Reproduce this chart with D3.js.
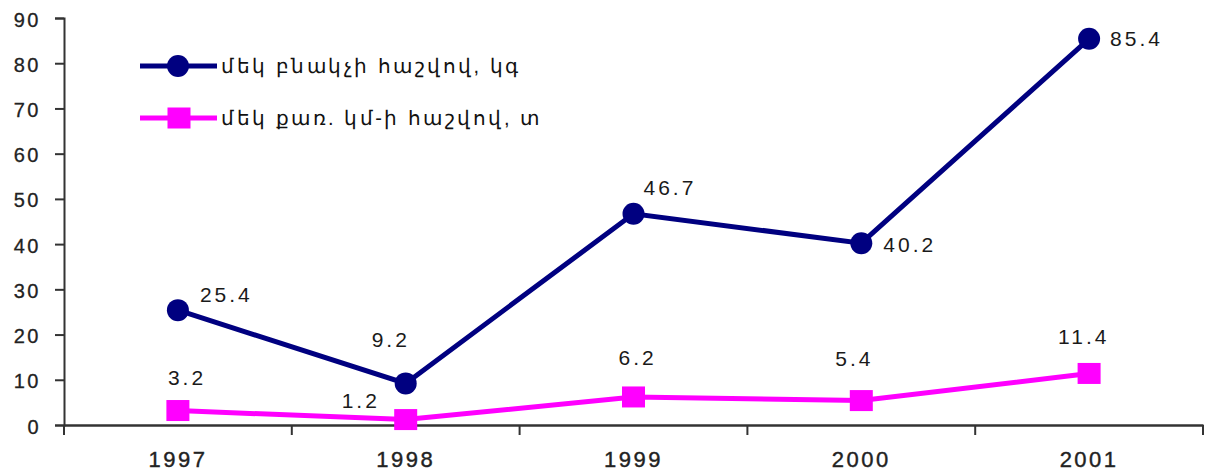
<!DOCTYPE html>
<html><head><meta charset="utf-8">
<script src="https://cdn.jsdelivr.net/npm/d3@7"></script>
<style>
body{margin:0;background:#fff;}
text{font-family:"Liberation Sans",Arial,sans-serif;}
</style></head>
<body><svg id="c" width="1206" height="475"></svg>
<script>
const years = ["1997","1998","1999","2000","2001"];
const perCapita = [25.4, 9.2, 46.7, 40.2, 85.4];
const perSqKm = [3.2, 1.2, 6.2, 5.4, 11.4];
const yTicks = [0,10,20,30,40,50,60,70,80,90];
const seriesNames = ["մեկ բնակչի հաշվով, կգ", "մեկ քառ. կմ-ի հաշվով, տ"];
// label offsets (placement only)
const offA = [[22,-8],[-34,-36],[10,-19],[22,9],[21,7]];
const offB = [[-10,-26],[-64,-12],[-15,-32],[-26,-35],[-31,-29]];

const svg = d3.select("#c");
const m = {l:64, r:1203, t:18, b:425};
const x = d3.scaleBand().domain(years).range([m.l, m.r]);
const y = d3.scaleLinear().domain([0,90]).range([m.b, m.t]);
const cx = d => x(d) + x.bandwidth()/2;

// y axis
const ya = svg.append("g").attr("transform",`translate(${m.l},0)`)
  .call(d3.axisLeft(y).tickValues(yTicks).tickSize(9).tickPadding(22));
ya.select(".domain").attr("stroke","#333").attr("stroke-width",2);
ya.selectAll(".tick line").attr("stroke","#333").attr("stroke-width",2);
ya.selectAll(".tick text").attr("font-size",20).attr("fill","#222")
  .attr("letter-spacing",2.5).attr("dy","0.4em").attr("font-family","Liberation Sans, Arial")
  .attr("text-anchor","end").attr("x",-23).attr("stroke","#222").attr("stroke-width",0.3);

// x axis
const xa = svg.append("g").attr("transform",`translate(0,${m.b})`)
  .call(d3.axisBottom(x).tickSize(0).tickPadding(0));
xa.select(".domain").attr("stroke","#333").attr("stroke-width",2.5);
xa.selectAll(".tick text").attr("font-size",22).attr("fill","#222")
  .attr("letter-spacing",2.5).attr("dy",null).attr("y",42).attr("font-family","Liberation Sans, Arial")
  .attr("stroke","#222").attr("stroke-width",0.4);
// category boundary ticks
const bounds = years.map(d=>x(d)).concat([m.r]);
svg.append("g").selectAll("line").data(bounds).join("line")
  .attr("x1",d=>d).attr("x2",d=>d).attr("y1",m.b).attr("y2",m.b+10)
  .attr("stroke","#333").attr("stroke-width",2);

const line = d3.line().x((d,i)=>cx(years[i])).y(d=>y(d));

// series B (magenta)
svg.append("path").datum(perSqKm).attr("d",line).attr("fill","none")
  .attr("stroke","#ff00ff").attr("stroke-width",5);
svg.append("g").selectAll("rect").data(perSqKm).join("rect")
  .attr("x",(d,i)=>cx(years[i])-11.5).attr("y",d=>y(d)-10.5).attr("width",23).attr("height",21)
  .attr("fill","#ff00ff");

// series A (navy)
svg.append("path").datum(perCapita).attr("d",line).attr("fill","none")
  .attr("stroke","#000080").attr("stroke-width",5);
svg.append("g").selectAll("circle").data(perCapita).join("circle")
  .attr("cx",(d,i)=>cx(years[i])).attr("cy",d=>y(d)).attr("r",11)
  .attr("fill","#000080");

// labels
const lbl = (data, off) => svg.append("g").selectAll("text").data(data).join("text")
  .attr("x",(d,i)=>cx(years[i])+off[i][0]).attr("y",(d,i)=>y(d)+off[i][1])
  .attr("font-size",21).attr("fill","#1a1a1a").attr("letter-spacing",3)
  .text(d=>d.toFixed(1));
lbl(perCapita, offA);
lbl(perSqKm, offB);

// legend
const lg = svg.append("g");
const legendRows = [{c:"#000080",shape:"circle",y:66},{c:"#ff00ff",shape:"rect",y:118}];
legendRows.forEach((r,i)=>{
  lg.append("line").attr("x1",140).attr("x2",217).attr("y1",r.y).attr("y2",r.y)
    .attr("stroke",r.c).attr("stroke-width",5);
  if(r.shape==="circle") lg.append("circle").attr("cx",178).attr("cy",r.y).attr("r",11).attr("fill",r.c);
  else lg.append("rect").attr("x",167.5).attr("y",r.y-10.5).attr("width",23).attr("height",21).attr("fill",r.c);
  lg.append("text").attr("x",221).attr("y",r.y+7).attr("font-size",20).attr("fill","#111")
    .attr("font-family","DejaVu Sans, sans-serif").attr("letter-spacing",2.5)
    .text(seriesNames[i]);
});
</script></body></html>
